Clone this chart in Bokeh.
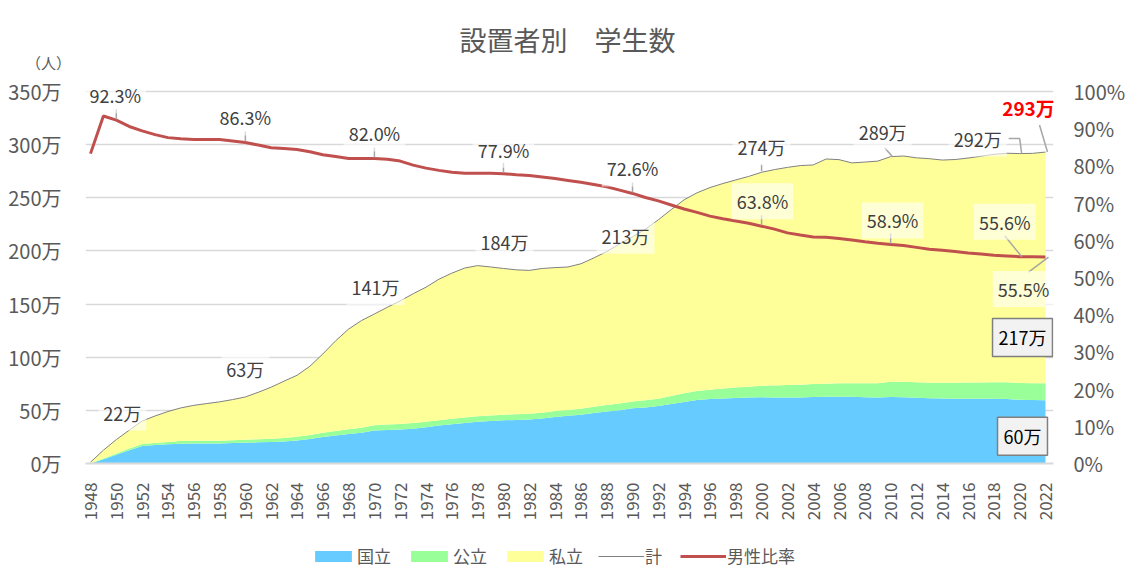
import numpy as np
from bokeh.plotting import figure
from bokeh.layouts import column
from bokeh.models import (Range1d, LinearAxis, FixedTicker, PrintfTickFormatter, Label,
                          Legend, LegendItem, ColumnDataSource)
from bokeh.transform import stack
from bokeh.embed import file_html
from bokeh.resources import INLINE

# ---------------- data (万人 / %) ----------------
years = list(range(1948, 2023))

national = [0.0, 4.0, 8.2, 12.5, 16.5, 17.3, 18.0, 18.6, 18.9, 18.8,
            18.8, 19.2, 19.5, 19.9, 20.3, 20.8, 21.6, 23.0, 24.9, 26.4,
            27.8, 29.0, 31.0, 31.6, 32.0, 32.8, 34.0, 35.7, 37.0, 38.2,
            39.2, 40.0, 40.7, 41.0, 41.4, 42.4, 43.8, 44.9, 45.8, 47.5,
            49.0, 50.2, 51.9, 52.8, 54.0, 56.0, 57.8, 59.8, 60.6, 61.2,
            61.7, 62.0, 62.4, 62.2, 62.2, 62.2, 62.5, 62.7, 62.8, 62.7,
            62.4, 62.1, 62.5, 62.3, 61.9, 61.4, 61.2, 61.0, 61.0, 60.9,
            60.9, 60.7, 59.9, 59.7, 59.6]

public = [0.1, 0.8, 1.3, 1.6, 1.8, 2.1, 2.3, 2.5, 2.5, 2.5,
          2.6, 2.7, 2.8, 2.9, 3.1, 3.3, 3.5, 3.9, 4.0, 4.2,
          4.4, 4.7, 5.0, 5.1, 5.2, 5.2, 5.2, 5.0, 5.0, 5.1,
          5.2, 5.2, 5.2, 5.3, 5.4, 5.4, 5.5, 5.5, 5.6, 5.8,
          6.0, 6.2, 6.4, 6.7, 7.0, 7.6, 8.3, 8.4, 8.9, 9.3,
          9.9, 10.3, 10.7, 11.2, 11.6, 12.0, 12.3, 12.4, 12.6, 12.9,
          13.0, 13.3, 14.3, 14.5, 14.6, 14.6, 14.8, 14.9, 15.1, 15.3,
          15.5, 15.7, 15.8, 15.9, 16.0]

private = [1.1, 7.7, 13.0, 17.2, 21.7, 25.3, 28.6, 31.2, 33.3, 35.1,
           36.6, 38.2, 40.3, 44.2, 48.4, 53.4, 57.9, 64.6, 74.1, 84.9,
           94.3, 100.8, 104.7, 110.3, 115.8, 121.7, 126.7, 132.7, 137.1, 140.6,
           141.8, 139.7, 137.6, 135.9, 134.9, 135.7, 135.0, 134.5, 136.5, 140.1,
           144.4, 150.2, 155.0, 161.0, 168.3, 175.3, 182.0, 186.5, 190.1, 192.9,
           195.2, 197.8, 200.9, 203.1, 204.8, 206.1, 206.1, 211.4, 210.5, 207.2,
           208.2, 209.1, 211.9, 212.5, 211.1, 210.8, 209.5, 210.1, 211.3, 212.9,
           214.5, 215.5, 215.9, 216.2, 217.4]

male_ratio = [83.3, 93.4, 92.3, 90.6, 89.4, 88.4, 87.6, 87.3, 87.1, 87.1,
              87.1, 86.7, 86.3, 85.6, 84.9, 84.7, 84.4, 83.8, 83.0, 82.5,
              82.0, 82.0, 82.0, 81.8, 81.3, 80.2, 79.4, 78.8, 78.3, 78.0,
              78.0, 78.0, 77.9, 77.6, 77.4, 77.0, 76.6, 76.1, 75.6, 75.0,
              74.4, 73.5, 72.6, 71.5, 70.6, 69.5, 68.4, 67.5, 66.5, 65.8,
              65.2, 64.6, 63.8, 63.0, 62.0, 61.4, 60.9, 60.8, 60.5, 60.1,
              59.6, 59.2, 58.9, 58.6, 58.1, 57.6, 57.3, 57.0, 56.6, 56.3,
              56.0, 55.8, 55.6, 55.6, 55.5]

series_names = ["国立", "公立", "私立"]
total_name = "計"
ratio_name = "男性比率"
title_text = "設置者別　学生数"
unit_text = "（人）"
left_ticks = list(range(0, 351, 50))
right_ticks = list(range(0, 101, 10))
year_ticks = years[::2]
label_years = [1950, 1960, 1970, 1980, 1990, 2000, 2010, 2020, 2022]

assert all(len(a) == len(years) for a in (national, public, private, male_ratio))

# ---------------- styling / layout ----------------
FONT = "Noto Sans CJK JP"
AXIS_COL = "#595959"
LAB_COL = "#404040"
GRID_COL = "#d9d9d9"
LEAD_COL = "#a6a6a6"
COLORS = ["#66CCFF", "#99FF99", "#FFFF99"]
TOT_COL, RAT_COL = "#808080", "#C0504D"
W = 1135
HH = 74            # header height (title + unit)
HF = 50            # footer height (legend)
X0, X1 = 1947.6126, 2022.62
PX_YEAR = 12.905
FW = int(round((X1 - X0) * PX_YEAR))
BASE_H = 372       # pixels from 0 to 350万 / 100%
EXTRA_TOP = 12     # frame headroom above the top gridline
FH = BASE_H + EXTRA_TOP
Y_MAX = 350 * FH / BASE_H
P_MAX = 100 * FH / BASE_H
BL, BR = 85, W - 85 - FW
BT = 79 - HH
PX_WAN = BASE_H / 350
PX_PCT = BASE_H / 100


def free_frame(fig):
    """Let a header/footer figure use its whole canvas instead of aligning with the plot."""
    try:
        fig.frame_align = False
        return True
    except Exception:
        return False


src = ColumnDataSource(dict(year=years, national=national, public=public,
                            private=private, ratio=male_ratio))

# ---------- header ----------
hdr = figure(width=W, height=HH, output_backend="svg", toolbar_location=None,
             x_range=Range1d(0, W), y_range=Range1d(0, HH), min_border=0,
             x_axis_type=None, y_axis_type=None, outline_line_color=None,
             background_fill_color="white", border_fill_color="white")
hdr.grid.visible = False
if not free_frame(hdr):
    hdr.x_range = Range1d(BL, BL + FW)
hdr.add_layout(Label(x=BL + FW / 2 - 2, y=HH - 39, text=title_text, text_align="center",
                     text_baseline="middle", text_font=FONT, text_font_size="27px",
                     text_color=AXIS_COL))
hdr.add_layout(Label(x=48, y=HH - 62, text=unit_text, text_align="center",
                     text_baseline="middle", text_font=FONT, text_font_size="15px",
                     text_color=AXIS_COL))

# ---------- main plot ----------
p = figure(frame_width=FW, frame_height=FH, output_backend="svg", toolbar_location=None,
           x_range=Range1d(X0, X1), y_range=Range1d(0, Y_MAX),
           min_border_left=BL, min_border_right=BR, min_border_top=BT, min_border_bottom=61,
           background_fill_color="white", border_fill_color="white", outline_line_color=None)
p.extra_y_ranges = {"pct": Range1d(0, P_MAX)}

xa = p.xaxis[0]
xa.ticker = FixedTicker(ticks=year_ticks)
xa.formatter = PrintfTickFormatter(format="%d")
xa.major_label_orientation = np.pi / 2
xa.major_tick_line_color = None
xa.minor_tick_line_color = None
xa.axis_line_color = GRID_COL
xa.axis_line_width = 2
xa.major_label_standoff = 13
xa.major_label_text_font = FONT
xa.major_label_text_font_size = "17px"
xa.major_label_text_color = AXIS_COL

ya = p.yaxis[0]
ya.ticker = FixedTicker(ticks=left_ticks)
ya.formatter = PrintfTickFormatter(format="%d万")
ya.major_tick_line_color = None
ya.minor_tick_line_color = None
ya.axis_line_color = None
ya.major_label_standoff = 18
ya.major_label_text_font = FONT
ya.major_label_text_font_size = "20px"
ya.major_label_text_color = AXIS_COL

ra = LinearAxis(y_range_name="pct", ticker=FixedTicker(ticks=right_ticks),
                formatter=PrintfTickFormatter(format="%d%%"))
ra.major_tick_line_color = None
ra.minor_tick_line_color = None
ra.axis_line_color = None
ra.major_label_standoff = 14
ra.major_label_text_font = FONT
ra.major_label_text_font_size = "20px"
ra.major_label_text_color = AXIS_COL
p.add_layout(ra, "right")

p.xgrid.visible = False
p.ygrid.ticker = FixedTicker(ticks=left_ticks)
p.ygrid.grid_line_color = GRID_COL
p.ygrid.grid_line_width = 1.3

p.varea_stack(["national", "public", "private"], x="year", color=COLORS, source=src)
p.line(x="year", y=stack("national", "public", "private"), source=src,
       line_color=TOT_COL, line_width=1)
p.line(x="year", y="ratio", y_range_name="pct", source=src, line_color=RAT_COL, line_width=3)

def add_label(x, y, text, dx, dy, rng="default", size="18px", color=LAB_COL,
              bg="white", bg_alpha=0.6, bold=False, border=None, pad=5):
    lab = Label(x=x, y=y, x_offset=dx, y_offset=dy, text=text, y_range_name=rng,
                text_align="center", text_baseline="middle", text_font=FONT,
                text_font_size=size, text_color=color,
                text_font_style="bold" if bold else "normal",
                background_fill_color=bg, background_fill_alpha=bg_alpha,
                border_line_color=border, border_line_width=1.5, padding=pad)
    p.add_layout(lab)

def add_leader(x, y, pts, per_unit, store):
    store[0].append([x + dx / PX_YEAR for dx, dy in pts])
    store[1].append([y + dy / per_unit for dx, dy in pts])

tot_off = {1950: (6, 27), 1960: (0, 28), 1970: (1, 27), 1980: (1, 26), 1990: (-7, 1),
           2000: (0, 25), 2010: (-8, 25), 2020: (-42, 15), 2022: (-17, 45)}
tot_lead = {2000: [(0, 1), (0, 8)], 2010: [(-6, 9), (2, 0)],
            2020: [(-11, 15), (0, 15), (2, 0)], 2022: [(-6, 27), (2, 0)]}
rat_off = {1950: (-1, 25), 1960: (0, 25), 1970: (0, 25), 1980: (0, 24), 1990: (0, 25),
           2000: (1, 25), 2010: (2, 24), 2020: (-15, 35), 2022: (-22, -32)}
rat_lead = {y: [(0, 1), (0, 11)] for y in [1950, 1960, 1970, 1980, 1990, 2000, 2010]}
rat_lead[2020] = [(-15, 21), (2, 0)]
rat_lead[2022] = [(-17, -15), (3, 0)]

tot_lines = ([], [])
rat_lines = ([], [])
for yr in label_years:
    i = years.index(yr)
    t = round(national[i] + public[i] + private[i], 1)
    dx, dy = tot_off[yr]
    if yr == years[-1]:
        add_label(yr, t, f"{t:.0f}万", dx, dy, size="19px", color="#FF0000", bold=True, bg_alpha=0)
    else:
        add_label(yr, t, f"{t:.0f}万", dx, dy)
    if yr in tot_lead:
        add_leader(yr, t, tot_lead[yr], PX_WAN, tot_lines)
    r = male_ratio[i]
    dx, dy = rat_off[yr]
    add_label(yr, r, f"{r:.1f}%", dx, dy, rng="pct")
    add_leader(yr, r, rat_lead[yr], PX_PCT, rat_lines)

p.multi_line(xs=tot_lines[0], ys=tot_lines[1], line_color=LEAD_COL, line_width=1.5)
p.multi_line(xs=rat_lines[0], ys=rat_lines[1], line_color=LEAD_COL, line_width=1.5, y_range_name="pct")

last = len(years) - 1
add_label(years[last], private[last], f"{private[last]:.0f}万", -23, -105, color="#000000",
          bg="#F2F2F2", bg_alpha=1, border="#7F7F7F", pad=6)
add_label(years[last], national[last], f"{national[last]:.0f}万", -23, -36, color="#000000",
          bg="#F2F2F2", bg_alpha=1, border="#7F7F7F", pad=6)

# ---------- footer with legend ----------
ftr = figure(width=W, height=HF, output_backend="svg", toolbar_location=None,
             x_range=Range1d(0, 1), y_range=Range1d(0, 1), min_border=0,
             x_axis_type=None, y_axis_type=None, outline_line_color=None,
             background_fill_color="white", border_fill_color="white")
ftr.grid.visible = False
free_frame(ftr)
# legend swatches only: the points lie outside the footer's visible range
swatch = ColumnDataSource(dict(x=[5, 6], y0=[5, 5], y1=[6, 6]))
leg_r = [ftr.varea(x="x", y1="y0", y2="y1", fill_color=c, source=swatch) for c in COLORS]
leg_r.append(ftr.line(x="x", y="y0", line_color=TOT_COL, line_width=1, source=swatch))
leg_r.append(ftr.line(x="x", y="y0", line_color=RAT_COL, line_width=3, source=swatch))
names = series_names + [total_name, ratio_name]
leg = Legend(items=[LegendItem(label=n, renderers=[r]) for n, r in zip(names, leg_r)],
             location=(310, 6), orientation="horizontal",
             glyph_width=46, glyph_height=14, label_height=14, label_standoff=1, spacing=15,
             padding=0, margin=0, border_line_color=None, background_fill_alpha=0,
             label_text_font=FONT, label_text_font_size="17px", label_text_color=AXIS_COL)
ftr.add_layout(leg)

layout = column(hdr, p, ftr, spacing=0)
open("out.html", "w").write(file_html(layout, INLINE))
